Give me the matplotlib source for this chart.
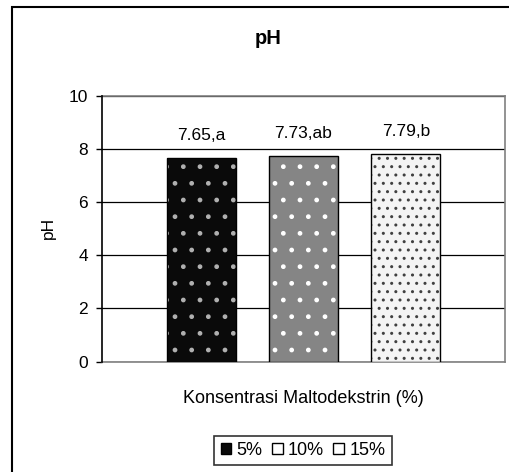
import numpy as np
import matplotlib
matplotlib.use("Agg")
import matplotlib.pyplot as plt
from matplotlib.patches import Rectangle, Patch

plt.rcParams['font.family'] = ['Liberation Sans', 'DejaVu Sans']
plt.rcParams['hatch.linewidth'] = 1.0

# pH for each maltodextrin concentration
series = ['5%', '10%', '15%']
ph_values = [7.65, 7.73, 7.79]
letters = ['a', 'ab', 'b']

# fill / dot pattern per series
face_colors = ['#0a0a0a', '#858585', '#f4f4f4']
dot_colors = ['#b0b0b0', '#ffffff', '#404040']
hatches = ['.', '.', '..']

W, H = 509, 472
fig = plt.figure(figsize=(W / 100, H / 100), dpi=100)

# outer chart frame
fig.patches.append(Rectangle((12 / W, -0.1), 1.2, 1 - 7 / H + 0.1,
                             transform=fig.transFigure, fill=False,
                             edgecolor='black', linewidth=1.5))

ax = fig.add_axes([101.7 / W, 1 - 361.7 / H, 403.6 / W, 266 / H])

x = np.arange(len(series))
bw = 0.673
for i in range(len(series)):
    ax.bar(x[i], ph_values[i], bw, color=face_colors[i],
           edgecolor=dot_colors[i], hatch=hatches[i], linewidth=0, zorder=3)
ax.bar(x, ph_values, bw, fill=False, edgecolor='black', linewidth=1.0, zorder=4)

for xi, v, lt in zip(x, ph_values, letters):
    ax.annotate(f'{v:.2f},{lt}', (xi, v), xytext=(0, 13), textcoords='offset points',
                ha='center', va='baseline', fontsize=12.5)

ax.set_xlim(1 - 1.97, 1 + 1.97)
ax.set_ylim(0, 10)
ax.set_yticks(np.arange(0, 11, 2))
ax.set_xticks([])
ax.yaxis.grid(True, color='black', linewidth=0.9)
ax.set_axisbelow(True)
ax.tick_params(axis='y', direction='out', length=4, width=1, labelsize=12.5, pad=6)

for side in ['top', 'right', 'bottom']:
    ax.spines[side].set_color('#808080')
    ax.spines[side].set_linewidth(1.2)
ax.spines['left'].set_color('black')
ax.spines['left'].set_linewidth(1.2)
ax.spines['left'].set_zorder(5)

fig.text(268 / W, 1 - 44 / H, 'pH', ha='center', va='baseline',
         fontsize=14.5, fontweight='bold')
fig.text(48.5 / W, 1 - 228 / H, 'pH', ha='center', va='center',
         rotation=90, fontsize=12.5)
fig.text(303.5 / W, 1 - 403 / H, 'Konsentrasi Maltodekstrin (%)',
         ha='center', va='baseline', fontsize=13)

handles = [Patch(facecolor=face_colors[0], edgecolor='black', linewidth=1.0),
           Patch(facecolor='white', edgecolor='black', linewidth=1.0),
           Patch(facecolor='white', edgecolor='black', linewidth=1.0)]
leg = fig.legend(handles, series, loc='center', bbox_to_anchor=(303 / W, 1 - 450.5 / H),
                 ncol=3, fontsize=13, frameon=True, fancybox=False,
                 handlelength=0.6, handleheight=0.6, handletextpad=0.3,
                 columnspacing=0.5, borderpad=0.35, borderaxespad=0)
leg.get_frame().set_edgecolor('black')
leg.get_frame().set_linewidth(1.2)

fig.savefig('out.png', dpi=100)
